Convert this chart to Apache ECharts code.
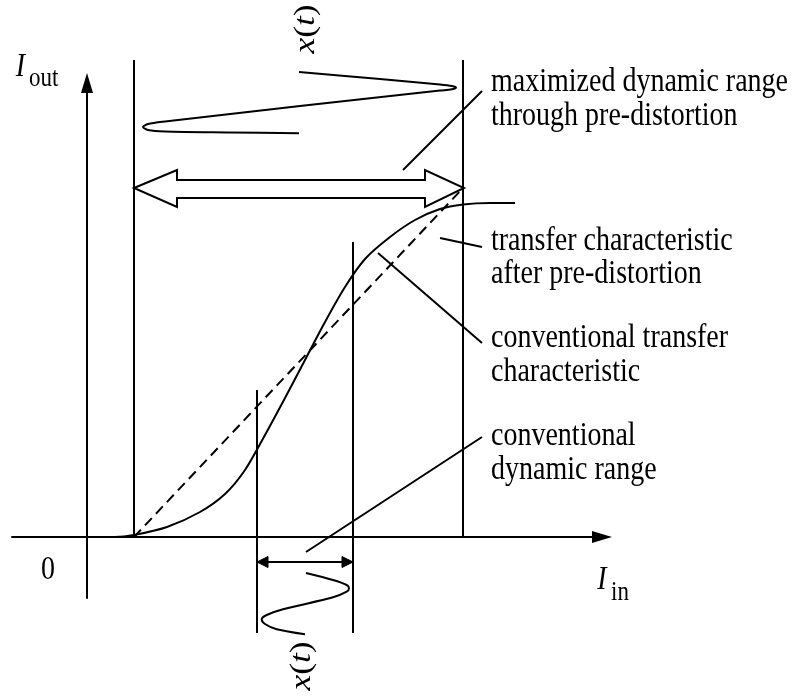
<!DOCTYPE html>
<html>
<head>
<meta charset="utf-8">
<script src="https://cdn.jsdelivr.net/npm/echarts@6/dist/echarts.min.js"></script>
<style>
html, body { margin: 0; padding: 0; background: #ffffff; }
#main { width: 796px; height: 697px; }
</style>
</head>
<body>
<div id="main"></div>
<script>
// 坐标：原点在两轴交点，x 向右，y 向上（1 单位约 1 像素）
var curveConventional = [[0, 0], [28, 0], [47, 2], [80, 10], [113, 25], [138, 43], [158, 67], [178, 102],
    [198, 139], [218, 177], [238, 215], [258, 250], [278, 278], [303, 300], [328, 317], [353, 328],
    [376, 332.5], [403, 334], [428, 334]];
var lineLinearized = [[47, 0], [376, 349]];

// 输入信号 x(t)（上：大范围，下：常规范围）
var waveTop = [[212, 465], [293, 458], [353, 452.5], [365, 451], [369, 449.5], [365, 447.7], [353, 446.5],
    [213, 431], [78, 415.5], [61, 413], [56, 410], [61, 407], [78, 405.5], [143, 404.5], [212, 403.7]];
var waveBottom = [[219, -36], [246, -43], [259.7, -48], [262, -51.3], [259.7, -54.7], [246, -60.3],
    [196, -72.3], [179.7, -78], [174.7, -82.3], [178, -87], [189.7, -92.3], [218, -97.3]];

// 竖线、指引线、小双箭头的杆
var segments = [
    [[47, 0], [47, 477]],
    [[376, 0], [376, 477]],
    [[170, -96], [170, 147]],
    [[266, -96], [266, 295]],
    [[316, 367], [395, 446]],
    [[353, 299], [395, 290]],
    [[291, 284], [395, 194]],
    [[219, -15], [395, 100]],
    [[170, -25], [266, -25]]
];

// 空心双箭头和实心箭头头部
var hollowArrow = [[47, 349], [90, 367], [90, 357], [338, 357], [338, 367], [377, 349],
    [338, 330], [338, 339], [90, 339], [90, 330]];
var solidHeads = [
    [[170, -25], [181, -19.5], [181, -30.5]],
    [[266, -25], [255, -19.5], [255, -30.5]]
];

// 文字
var textStrings = ['maximized dynamic range', 'through pre-distortion', 'transfer characteristic',
    'after pre-distortion', 'conventional transfer', 'characteristic', 'conventional', 'dynamic range',
    '0', 'I', 'out', 'I', 'in', '{i|x}({i|t})', '{i|x}({i|t})'];
var textKinds = ['label', 'label', 'label', 'label', 'label', 'label', 'label', 'label',
    'center', 'big', 'sub', 'big', 'sub', 'rot', 'rot'];
var textX = [404, 404, 404, 404, 404, 404, 404, 404, -39, -66.5, -58, 515, 524, 219, 215];
var textY = [454.5, 420.5, 296, 263, 198.5, 165, 100.5, 66.5, -33, 470, 458.5, -43, -55.5, 508, -129];

var FONT = '"Liberation Serif", "Times New Roman", serif';
var STRETCH = 1.22;

var chart = echarts.init(document.getElementById('main'));

function blackLine(data, extra) {
    var s = {
        type: 'line',
        data: data,
        symbol: 'none',
        clip: false,
        silent: true,
        lineStyle: { color: '#000', width: 2 }
    };
    for (var k in extra) s[k] = extra[k];
    return s;
}

var series = [];
segments.forEach(function (seg) {
    series.push(blackLine(seg));
});
series.push(blackLine(lineLinearized, { lineStyle: { color: '#000', width: 2, type: [10, 6] } }));
series.push(blackLine(curveConventional, { smooth: 0.3 }));
series.push(blackLine(waveTop, { smooth: 0.3 }));
series.push(blackLine(waveBottom, { smooth: 0.3 }));

// 箭头多边形
series.push({
    type: 'custom',
    coordinateSystem: 'cartesian2d',
    silent: true,
    clip: false,
    data: [hollowArrow[0], solidHeads[0][0], solidHeads[1][0]],
    renderItem: function (params, api) {
        var poly = params.dataIndex === 0 ? hollowArrow : solidHeads[params.dataIndex - 1];
        var pts = poly.map(function (p) { return api.coord(p); });
        return {
            type: 'polygon',
            shape: { points: pts },
            style: params.dataIndex === 0
                ? { fill: 'none', stroke: '#000', lineWidth: 2, lineJoin: 'miter' }
                : { fill: '#000', stroke: '#000', lineWidth: 1 }
        };
    }
});

// 文字
series.push({
    type: 'custom',
    coordinateSystem: 'cartesian2d',
    silent: true,
    clip: false,
    data: textX.map(function (x, i) { return [x, textY[i]]; }),
    renderItem: function (params, api) {
        var i = params.dataIndex;
        var p = api.coord([api.value(0), api.value(1)]);
        var kind = textKinds[i];
        var el = {
            type: 'text',
            x: p[0],
            y: p[1],
            scaleY: STRETCH,
            style: {
                text: textStrings[i],
                fill: '#000',
                font: '28px ' + FONT,
                align: 'left',
                verticalAlign: 'middle'
            }
        };
        if (kind === 'center') {
            el.style.align = 'center';
        } else if (kind === 'big') {
            el.style.align = 'center';
            el.style.font = 'italic 28px ' + FONT;
        } else if (kind === 'sub') {
            el.style.font = '23px ' + FONT;
        } else if (kind === 'rot') {
            el.scaleY = 1;
            el.scaleX = STRETCH;
            el.rotation = Math.PI / 2;
            el.style.align = 'center';
            el.style.font = '29px ' + FONT;
            el.style.rich = { i: { font: 'italic 29px ' + FONT } };
        }
        return el;
    }
});

var option = {
    animation: false,
    backgroundColor: '#ffffff',
    grid: { left: 12, right: 194, top: 83, bottom: 99 },
    xAxis: {
        type: 'value',
        min: -75,
        max: 515,
        splitLine: { show: false },
        axisTick: { show: false },
        axisLabel: { show: false },
        axisLine: {
            show: true,
            onZero: true,
            symbol: ['none', 'triangle'],
            symbolSize: [12, 20],
            lineStyle: { color: '#000', width: 2 }
        }
    },
    yAxis: {
        type: 'value',
        min: -61,
        max: 454,
        splitLine: { show: false },
        axisTick: { show: false },
        axisLabel: { show: false },
        axisLine: {
            show: true,
            onZero: true,
            symbol: ['none', 'triangle'],
            symbolSize: [12, 20],
            lineStyle: { color: '#000', width: 2 }
        }
    },
    series: series
};

chart.setOption(option);
</script>
</body>
</html>
